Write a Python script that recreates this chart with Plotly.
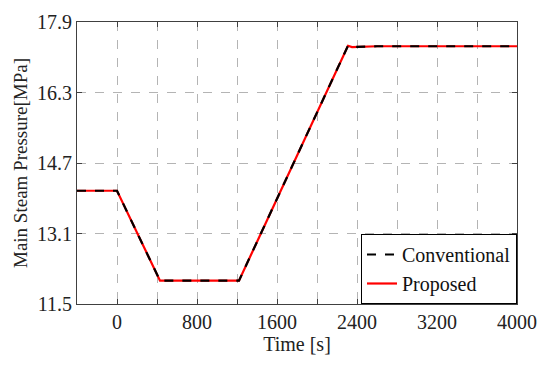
import plotly.graph_objects as go

time_s = [-400, 0, 430, 1220, 2310, 2350, 2600, 4000]
conventional = [14.07, 14.07, 12.03, 12.03, 17.36, 17.33, 17.35, 17.35]
proposed = [14.07, 14.07, 12.03, 12.03, 17.36, 17.33, 17.35, 17.35]

x_tick_vals = [-400, 0, 400, 800, 1200, 1600, 2000, 2400, 2800, 3200, 3600, 4000]
x_tick_text = ["", "0", "", "800", "", "1600", "", "2400", "", "3200", "", "4000"]
y_tick_vals = [11.5, 13.1, 14.7, 16.3, 17.9]
y_tick_text = ["11.5", "13.1", "14.7", "16.3", "17.9"]

font_family = "Liberation Serif, Times New Roman, serif"

fig = go.Figure()
fig.add_trace(go.Scatter(x=time_s, y=proposed, mode="lines", name="Proposed",
                         line=dict(color="#ff0000", width=2.2), legendrank=2))
fig.add_trace(go.Scatter(x=time_s, y=conventional, mode="lines", name="Conventional",
                         line=dict(color="#000000", width=2.2, dash="dash"), legendrank=1))

axis_common = dict(
    showline=True, linecolor="#404040", linewidth=1, mirror="ticks",
    ticks="inside", ticklen=5, tickcolor="#404040",
    showgrid=True, gridcolor="#b4b4b4", griddash="dash", gridwidth=1,
    zeroline=False, tickfont=dict(family=font_family, size=20, color="#222"),
    automargin=False,
)

fig.update_xaxes(range=[-400, 4000], tickmode="array", tickvals=x_tick_vals, ticktext=x_tick_text,
                 title=dict(text="Time [s]", font=dict(family=font_family, size=20, color="#222"), standoff=2),
                 **axis_common)
fig.update_yaxes(range=[11.5, 17.9], tickmode="array", tickvals=y_tick_vals, ticktext=y_tick_text,
                 title=dict(text="Main Steam Pressure[MPa]", font=dict(family=font_family, size=19, color="#222"), standoff=4),
                 **axis_common)

fig.update_layout(
    width=542, height=360,
    margin=dict(l=69, r=33, t=14, b=64),
    plot_bgcolor="white", paper_bgcolor="white",
    font=dict(family=font_family, size=19, color="#222"),
    legend=dict(x=1, y=0, xanchor="right", yanchor="bottom",
                bordercolor="#000000", borderwidth=1, bgcolor="white",
                font=dict(family=font_family, size=20, color="#111"),
                tracegroupgap=0, itemwidth=30),
    showlegend=True,
)

fig.write_html("out.html")
